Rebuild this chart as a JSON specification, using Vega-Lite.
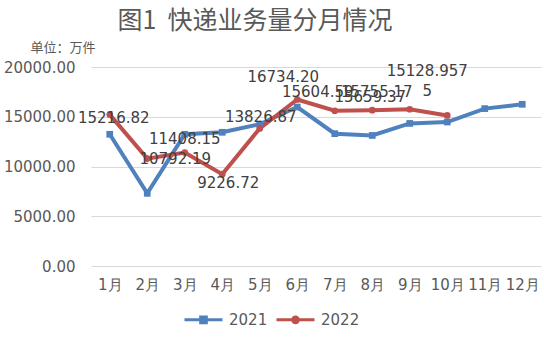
{
  "$schema": "https://vega.github.io/schema/vega-lite/v6.json",
  "width": 450,
  "height": 199,
  "autosize": "none",
  "padding": {"left": 91, "top": 67, "right": 3, "bottom": 72},
  "background": "white",
  "config": {
    "view": {"stroke": null},
    "font": "DejaVu Sans",
    "axis": {"labelFont": "DejaVu Sans", "labelFontSize": 15, "labelColor": "#595959"}
  },
  "title": {
    "text": "图1\u00a0\u00a0快递业务量分月情况",
    "font": "Noto Sans CJK SC",
    "fontSize": 25,
    "fontWeight": "normal",
    "color": "#595959",
    "anchor": "middle",
    "dx": -61,
    "offset": 7
  },
  "data": {
    "values": [
      {"month": "1月", "year": "2021", "value": 13236},
      {"month": "2月", "year": "2021", "value": 7306},
      {"month": "3月", "year": "2021", "value": 13236},
      {"month": "4月", "year": "2021", "value": 13437},
      {"month": "5月", "year": "2021", "value": 14250},
      {"month": "6月", "year": "2021", "value": 15980},
      {"month": "7月", "year": "2021", "value": 13300},
      {"month": "8月", "year": "2021", "value": 13120},
      {"month": "9月", "year": "2021", "value": 14330},
      {"month": "10月", "year": "2021", "value": 14470},
      {"month": "11月", "year": "2021", "value": 15820},
      {"month": "12月", "year": "2021", "value": 16250},
      {"month": "1月", "year": "2022", "value": 15216.82, "label": "15216.82"},
      {"month": "2月", "year": "2022", "value": 10792.19, "label": "10792.19"},
      {"month": "3月", "year": "2022", "value": 11408.15, "label": "11408.15"},
      {"month": "4月", "year": "2022", "value": 9226.72, "label": "9226.72"},
      {"month": "5月", "year": "2022", "value": 13826.87, "label": "13826.87"},
      {"month": "6月", "year": "2022", "value": 16734.2, "label": "16734.20"},
      {"month": "7月", "year": "2022", "value": 15604.59, "label": "15604.59"},
      {"month": "8月", "year": "2022", "value": 15659.37, "label": "15659.37"},
      {"month": "9月", "year": "2022", "value": 15755.17, "label": "15755.17"},
      {"month": "10月", "year": "2022", "value": 15128.9575, "label": "15128.957\n5"}
    ]
  },
  "encoding": {
    "x": {
      "field": "month", "type": "ordinal", "sort": null,
      "scale": {"type": "point", "padding": 0.5},
      "axis": {"title": null, "labelAngle": 0, "domain": false, "ticks": false, "labelPadding": 11, "grid": false}
    },
    "y": {
      "field": "value", "type": "quantitative",
      "scale": {"domain": [0, 20000], "nice": false},
      "axis": {
        "values": [0, 5000, 10000, 15000, 20000],
        "format": ".2f",
        "domain": false, "ticks": false, "labelPadding": 16,
        "gridColor": "#D9D9D9", "gridWidth": 1,
        "title": "单位：万件",
        "titleAngle": 0, "titleAlign": "left", "titleBaseline": "middle",
        "titleX": -61, "titleY": -20,
        "titleFont": "Noto Sans CJK SC", "titleFontSize": 13, "titleFontWeight": "normal", "titleColor": "#595959"
      }
    }
  },
  "layer": [
    {
      "mark": {"type": "line", "strokeWidth": 4},
      "encoding": {
        "color": {
          "field": "year", "type": "nominal",
          "scale": {"domain": ["2021", "2022"], "range": ["#4F81BD", "#C0504D"]},
          "legend": {
            "title": null, "orient": "none", "direction": "horizontal",
            "legendX": 92, "legendY": 232,
            "symbolSize": 1444, "symbolStrokeWidth": 3,
            "labelFont": "DejaVu Sans", "labelFontSize": 15, "labelColor": "#595959",
            "labelOffset": 5, "columnPadding": 2,
            "encode": {
              "symbols": {
                "update": {
                  "shape": {"signal": "datum.value == '2021' ? 'M-1,0H1M-0.15,-0.15H0.15V0.15H-0.15Z' : 'M-1,0H1M0.15,0A0.15,0.15,0,1,1,-0.15,0A0.15,0.15,0,1,1,0.15,0Z'"}
                }
              }
            }
          }
        }
      }
    },
    {
      "transform": [{"filter": "datum.year == '2021'"}],
      "mark": {"type": "point", "shape": "square", "filled": true, "size": 45, "color": "#4F81BD", "opacity": 1}
    },
    {
      "transform": [{"filter": "datum.year == '2022'"}],
      "mark": {"type": "point", "shape": "circle", "filled": true, "size": 45, "color": "#C0504D", "opacity": 1}
    },
    {
      "transform": [{"filter": "datum.month == '1月' && datum.year == '2022'"}],
      "mark": {"type": "text", "fontSize": 15, "color": "#404040", "dx": 4, "dy": 3},
      "encoding": {"text": {"field": "label"}}
    },
    {
      "transform": [{"filter": "datum.month == '2月' && datum.year == '2022'"}],
      "mark": {"type": "text", "fontSize": 15, "color": "#404040", "dx": 28, "dy": 0},
      "encoding": {"text": {"field": "label"}}
    },
    {
      "transform": [{"filter": "datum.month == '3月' && datum.year == '2022'"}],
      "mark": {"type": "text", "fontSize": 15, "color": "#404040", "dx": 0, "dy": -13},
      "encoding": {"text": {"field": "label"}}
    },
    {
      "transform": [{"filter": "datum.month == '4月' && datum.year == '2022'"}],
      "mark": {"type": "text", "fontSize": 15, "color": "#404040", "dx": 6, "dy": 9},
      "encoding": {"text": {"field": "label"}}
    },
    {
      "transform": [{"filter": "datum.month == '5月' && datum.year == '2022'"}],
      "mark": {"type": "text", "fontSize": 15, "color": "#404040", "dx": 1, "dy": -11},
      "encoding": {"text": {"field": "label"}}
    },
    {
      "transform": [{"filter": "datum.month == '6月' && datum.year == '2022'"}],
      "mark": {"type": "text", "fontSize": 15, "color": "#404040", "dx": -14, "dy": -22},
      "encoding": {"text": {"field": "label"}}
    },
    {
      "transform": [{"filter": "datum.month == '7月' && datum.year == '2022'"}],
      "mark": {"type": "text", "fontSize": 15, "color": "#404040", "dx": -17, "dy": -19},
      "encoding": {"text": {"field": "label"}}
    },
    {
      "transform": [{"filter": "datum.month == '8月' && datum.year == '2022'"}],
      "mark": {"type": "text", "fontSize": 15, "color": "#404040", "dx": -2, "dy": -13},
      "encoding": {"text": {"field": "label"}}
    },
    {
      "transform": [{"filter": "datum.month == '9月' && datum.year == '2022'"}],
      "mark": {"type": "text", "fontSize": 15, "color": "#404040", "dx": -33, "dy": -17},
      "encoding": {"text": {"field": "label"}}
    },
    {
      "transform": [{"filter": "datum.month == '10月' && datum.year == '2022'"}],
      "mark": {"type": "text", "fontSize": 15, "color": "#404040", "dx": -20, "dy": -51, "baseline": "top", "lineBreak": "\n", "lineHeight": 20},
      "encoding": {"text": {"field": "label"}}
    }
  ]
}
